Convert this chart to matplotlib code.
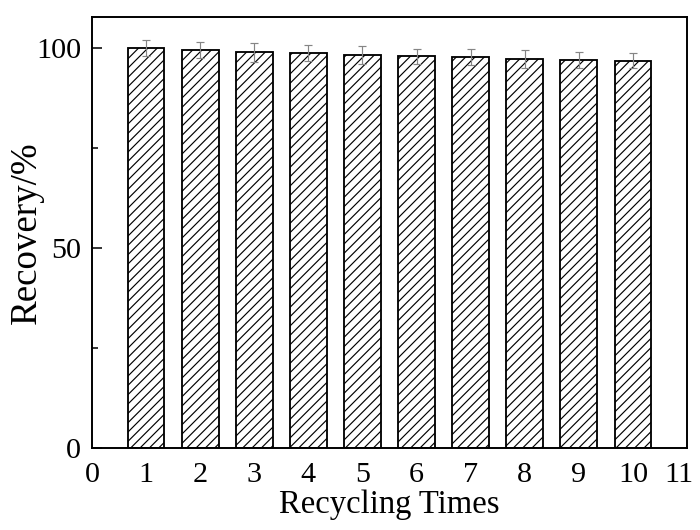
import matplotlib
matplotlib.use('Agg')
import matplotlib.pyplot as plt
from matplotlib.transforms import ScaledTranslation

# Data
cycles = [1, 2, 3, 4, 5, 6, 7, 8, 9, 10]
recovery = [100.0, 99.5, 98.9, 98.7, 98.2, 97.9, 97.75, 97.25, 97.0, 96.8]
errors = [2.0, 1.95, 2.3, 1.95, 2.2, 1.9, 1.9, 2.3, 2.0, 1.9]
xticks = list(range(0, 12))
yticks = [0, 50, 100]

DPI = 140
plt.rcParams['font.family'] = ['Liberation Serif', 'DejaVu Serif']
plt.rcParams['hatch.linewidth'] = 0.6
plt.rcParams['axes.linewidth'] = 1.0

fig = plt.figure(figsize=(700 / DPI, 530 / DPI), dpi=DPI)
ax = fig.add_axes([92 / 700, 1 - 448 / 530, (687 - 92) / 700, (448 - 17) / 530])

ax.bar(cycles, recovery, width=0.68, color='white', edgecolor='black',
       linewidth=0.95, hatch='/////', zorder=2)
ax.errorbar(cycles, recovery, yerr=errors, fmt='none', ecolor='#858585',
            elinewidth=0.6, capsize=1.9, capthick=0.6, zorder=3)

ax.set_xlim(0, 11)
ax.set_ylim(0, 107.75)
ax.set_xticks(xticks)
ax.set_yticks(yticks)
ax.set_yticks([25, 75], minor=True)
ax.tick_params(axis='y', which='major', direction='in', length=5, width=0.8,
               labelsize=15.5, pad=5.5)
ax.tick_params(axis='y', which='minor', direction='in', length=3, width=0.8)
ax.tick_params(axis='x', which='major', length=0, labelsize=15.5, pad=7)

# last tick label sits a little left so it stays inside the figure
last = ax.get_xticklabels()[-1]
last.set_transform(last.get_transform() + ScaledTranslation(-8 / DPI, 0, fig.dpi_scale_trans))

ax.set_xlabel('Recycling Times', fontsize=16.8, labelpad=1)
ax.set_ylabel('Recovery/%', fontsize=19, labelpad=-4)

plt.savefig('out.png', dpi=DPI, facecolor='white')
